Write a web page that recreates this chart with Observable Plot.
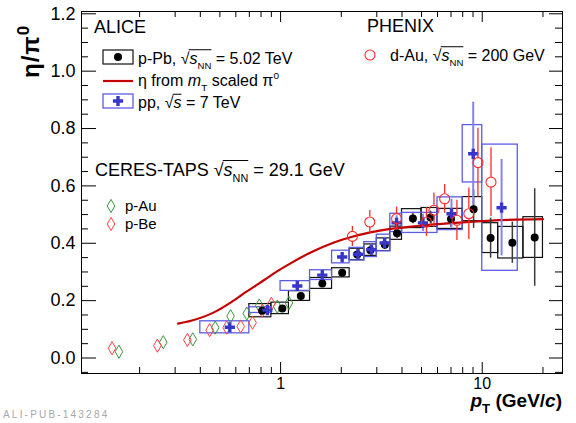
<!DOCTYPE html>
<html>
<head>
<meta charset="utf-8">
<script src="https://cdn.jsdelivr.net/npm/d3@7"></script>
<script src="https://cdn.jsdelivr.net/npm/@observablehq/plot@0.6"></script>
<style>
  body { margin: 0; background: #fff; }
  svg { font-family: "Liberation Sans", Arial, sans-serif; }
</style>
</head>
<body>
<div id="chart"></div>
<script>
// ALICE p-Pb, sqrt(sNN) = 5.02 TeV: eta/pi0 with statistical and systematic uncertainties
const pPbPt    = [0.81, 1.02, 1.26, 1.61, 2.02, 2.40, 2.79, 3.29, 3.78, 4.53, 5.54, 7.0, 9.06, 11.0, 14.1, 18.2];
const pPbVal   = [0.165, 0.173, 0.216, 0.260, 0.297, 0.361, 0.376, 0.395, 0.435, 0.486, 0.490, 0.485, 0.519, 0.418, 0.402, 0.420];
const pPbStat  = [0.008, 0.008, 0.008, 0.009, 0.010, 0.012, 0.013, 0.015, 0.018, 0.018, 0.022, 0.030, 0.067, 0.070, 0.072, 0.170];
const pPbSys   = [0.023, 0.020, 0.017, 0.019, 0.016, 0.020, 0.020, 0.022, 0.023, 0.033, 0.033, 0.035, 0.042, 0.052, 0.055, 0.071];
const pPbBinLo = [0.7, 0.9, 1.1, 1.4, 1.8, 2.2, 2.6, 3.0, 3.5, 4.0, 5.0, 6.0, 8.0, 10, 12, 16];
const pPbBinHi = [0.9, 1.1, 1.4, 1.8, 2.2, 2.6, 3.0, 3.5, 4.0, 5.0, 6.0, 8.0, 10, 12, 16, 20];

// ALICE pp, sqrt(s) = 7 TeV
const ppPt    = [0.56, 0.86, 1.21, 1.61, 2.02, 2.42, 2.82, 3.28, 3.76, 5.08, 7.04, 9.02, 12.47];
const ppVal   = [0.107, 0.167, 0.251, 0.289, 0.352, 0.362, 0.378, 0.401, 0.471, 0.471, 0.503, 0.712, 0.524];
const ppStat  = [0.010, 0.010, 0.010, 0.012, 0.014, 0.016, 0.018, 0.020, 0.025, 0.030, 0.050, 0.180, 0.168];
const ppSys   = [0.021, 0.010, 0.017, 0.017, 0.022, 0.022, 0.026, 0.029, 0.032, 0.035, 0.057, 0.100, 0.220];
const ppBinLo = [0.4, 0.7, 1.0, 1.4, 1.8, 2.2, 2.6, 3.0, 3.5, 4.0, 6.0, 8.0, 10];
const ppBinHi = [0.7, 0.9, 1.4, 1.8, 2.2, 2.6, 3.0, 3.5, 4.0, 6.0, 8.0, 10, 15];

// eta from mT-scaled pi0
const mtPt  = [0.31, 0.36, 0.47, 0.57, 0.68, 0.83, 0.96, 1.12, 1.41, 1.84, 2.22, 2.79, 3.5, 4.9, 7.0, 11, 20];
const mtVal = [0.12, 0.13, 0.16, 0.195, 0.232, 0.272, 0.302, 0.33, 0.368, 0.403, 0.421, 0.438, 0.45, 0.461, 0.47, 0.479, 0.484];

// PHENIX d-Au, sqrt(sNN) = 200 GeV
const phxPt  = [2.27, 2.77, 3.76, 5.29, 5.76, 6.51, 7.49, 8.58, 9.52, 11.05];
const phxVal = [0.424, 0.474, 0.486, 0.474, 0.515, 0.555, 0.480, 0.503, 0.681, 0.613];
const phxErr = [0.035, 0.040, 0.040, 0.050, 0.060, 0.050, 0.070, 0.090, 0.120, 0.120];

// CERES-TAPS, sqrt(sNN) = 29.1 GeV
const pAuPt  = [0.158, 0.262, 0.367, 0.474, 0.565, 0.68, 0.784, 0.963, 1.1];
const pAuVal = [0.022, 0.055, 0.065, 0.106, 0.146, 0.155, 0.183, 0.179, 0.192];
const pBePt  = [0.146, 0.245, 0.345, 0.445, 0.54, 0.634, 0.726, 0.81, 0.9];
const pBeVal = [0.034, 0.043, 0.063, 0.097, 0.106, 0.110, 0.123, 0.165, 0.189];

// axis ticks
const xMajor = [1, 10];
const xMinor = [0.2, 0.3, 0.4, 0.5, 0.6, 0.7, 0.8, 0.9, 2, 3, 4, 5, 6, 7, 8, 9, 20];
const yMajor = [0, 0.2, 0.4, 0.6, 0.8, 1.0, 1.2];
const yMinor = d3.range(-0.05, 1.2001, 0.05).map(v => +v.toFixed(2)).filter(v => !yMajor.some(m => Math.abs(m - v) < 1e-6));

const pPb = pPbPt.map((pt, i) => ({pt, v: pPbVal[i], stat: pPbStat[i], sys: pPbSys[i], lo: pPbBinLo[i], hi: pPbBinHi[i]}));
const pp  = ppPt.map((pt, i) => ({pt, v: ppVal[i], stat: ppStat[i], sys: ppSys[i], lo: ppBinLo[i], hi: ppBinHi[i]}));
const mt  = mtPt.map((pt, i) => ({pt, v: mtVal[i]}));
const phx = phxPt.map((pt, i) => ({pt, v: phxVal[i], err: phxErr[i]}));
const pAu = pAuPt.map((pt, i) => ({pt, v: pAuVal[i]}));
const pBe = pBePt.map((pt, i) => ({pt, v: pBeVal[i]}));

const W = 576, H = 423;
const mL = 81, mR = 14, mT = 11, mB = 50;
const fw = W - mL - mR, fh = H - mT - mB;

const BLUE = "#3636c8", BLUEBOX = "#5c5ce6", BLUEERR = "#8484ea";
const RED = "#ff2a2a", LINE = "#c40000", GREEN = "#3a943a", PBE = "#ff4040";
const R_CIRC = 5;

const svgNode = Plot.plot({
  width: W, height: H,
  marginLeft: mL, marginRight: mR, marginTop: mT, marginBottom: mB,
  x: {type: "log", domain: [0.103, 25], axis: null},
  y: {domain: [-0.054, 1.208], axis: null},
  style: {fontFamily: "'Liberation Sans', Arial, sans-serif", background: "white", color: "black"},
  marks: [
    // systematic boxes
    Plot.rect(pPb, {x1: "lo", x2: "hi", y1: d => d.v - d.sys, y2: d => d.v + d.sys, fill: "none", stroke: "#111", strokeWidth: 1.2}),
    Plot.rect(pp, {x1: "lo", x2: "hi", y1: d => d.v - d.sys, y2: d => d.v + d.sys, fill: "none", stroke: BLUEBOX, strokeWidth: 1.3}),
    // mT scaling curve
    Plot.line(mt, {x: "pt", y: "v", stroke: LINE, strokeWidth: 2.2, curve: "monotone-x"}),
    // CERES-TAPS
    Plot.dot(pAu, {x: "pt", y: "v", symbol: "diamond", r: 4, stroke: GREEN, fill: "none", strokeWidth: 1}),
    Plot.dot(pBe, {x: "pt", y: "v", symbol: "diamond", r: 4, stroke: PBE, fill: "none", strokeWidth: 1}),
    // statistical errors
    Plot.ruleX(pPb, {x: "pt", y1: d => d.v - d.stat, y2: d => d.v + d.stat, stroke: "#3a3a3a", strokeWidth: 1.5}),
    Plot.ruleX(pp, {x: "pt", y1: d => d.v - d.stat, y2: d => d.v + d.stat, stroke: BLUEERR, strokeWidth: 2}),
    Plot.dot(pPb, {x: "pt", y: "v", r: 4, fill: "#000"}),
    Plot.dot(pp, {x: "pt", y: "v", symbol: "cross", r: 4.3, fill: BLUE}),
    // PHENIX: error bars stop at the open marker
    Plot.ruleX(phx, {x: "pt", y1: d => d.v + d.err, y2: "v", insetBottom: R_CIRC, stroke: RED, strokeWidth: 1.3}),
    Plot.ruleX(phx, {x: "pt", y1: "v", y2: d => d.v - d.err, insetTop: R_CIRC, stroke: RED, strokeWidth: 1.3}),
    Plot.dot(phx, {x: "pt", y: "v", r: R_CIRC, stroke: RED, fill: "none", strokeWidth: 1.1}),
    // frame and inward ticks on all four sides
    Plot.frame({stroke: "#000", strokeWidth: 1}),
    Plot.ruleX(xMajor, {x: d => d, insetTop: fh - 11, stroke: "#000"}),
    Plot.ruleX(xMinor, {x: d => d, insetTop: fh - 6, stroke: "#000"}),
    Plot.ruleX(xMajor, {x: d => d, insetBottom: fh - 11, stroke: "#000"}),
    Plot.ruleX(xMinor, {x: d => d, insetBottom: fh - 6, stroke: "#000"}),
    Plot.ruleY(yMajor, {y: d => d, insetRight: fw - 15, stroke: "#000"}),
    Plot.ruleY(yMinor, {y: d => d, insetRight: fw - 7, stroke: "#000"}),
    Plot.ruleY(yMajor, {y: d => d, insetLeft: fw - 13, stroke: "#000"}),
    Plot.ruleY(yMinor, {y: d => d, insetLeft: fw - 7, stroke: "#000"}),
    // tick labels
    Plot.text(yMajor, {y: d => d, frameAnchor: "left", dx: -6, textAnchor: "end", text: d => d.toFixed(1), fontSize: 18, fill: "#000"}),
    Plot.text(xMajor, {x: d => d, frameAnchor: "bottom", dy: 4, lineAnchor: "top", text: d => String(d), fontSize: 16, fill: "#000"})
  ]
});

document.getElementById("chart").appendChild(svgNode);
const svg = d3.select(svgNode);

// text with sub/superscripts, italics and a radical overline
function rich(x, y, size, parts, opts = {}) {
  const t = svg.append("text").attr("x", x).attr("y", y).attr("font-size", size).attr("fill", "#000")
    .attr("text-anchor", opts.anchor || "start");
  if (opts.weight) t.attr("font-weight", opts.weight);
  if (opts.transform) t.attr("transform", opts.transform);
  if (opts.spacing) t.attr("letter-spacing", opts.spacing);
  let cur = 0;
  const bar = [];
  let rad = null;
  for (const p of parts) {
    const small = p.sub || p.sup;
    const off = p.sub ? size * 0.32 : p.sup ? -size * 0.42 : 0;
    const ts = t.append("tspan").attr("dy", off - cur).text(p.t);
    if (small) ts.attr("font-size", size * (p.scale || 0.62));
    if (p.i) ts.attr("font-style", "italic");
    if (p.dx) ts.attr("dx", p.dx);
    cur = off;
    if (p.bar) bar.push(ts.node());
    if (p.rad) rad = ts.node();
  }
  if (bar.length && rad) {
    const rb = rad.getBBox();
    const bx = bar.map(n => n.getBBox());
    const x1 = rb.x + rb.width - 1;
    const x2 = Math.max(...bx.map(b => b.x + b.width));
    const yy = y - size * 0.86;
    svg.append("line").attr("x1", x1).attr("x2", x2).attr("y1", yy).attr("y2", yy)
      .attr("stroke", "#000").attr("stroke-width", 1);
  }
  return t;
}

const sqrtNN = [{t: "√", rad: true}, {t: "s", i: true, bar: true}, {t: "NN", sub: true, bar: true, scale: 0.6}];

// ALICE block
rich(94, 33, 18, [{t: "ALICE"}]);
svg.append("rect").attr("x", 103).attr("y", 50).attr("width", 30).attr("height", 14)
  .attr("fill", "none").attr("stroke", "#111").attr("stroke-width", 1.2);
svg.append("circle").attr("cx", 118).attr("cy", 57).attr("r", 4).attr("fill", "#000");
rich(138, 63.5, 16, [{t: "p-Pb, "}, ...sqrtNN, {t: " = 5.02 TeV"}]);

svg.append("line").attr("x1", 103).attr("x2", 133).attr("y1", 81).attr("y2", 81)
  .attr("stroke", LINE).attr("stroke-width", 2.2);
rich(138, 85.5, 16, [{t: "η from "}, {t: "m", i: true}, {t: "T", sub: true}, {t: " scaled π"}, {t: "0", sup: true}]);

svg.append("rect").attr("x", 103).attr("y", 94).attr("width", 30).attr("height", 14)
  .attr("fill", "none").attr("stroke", BLUEBOX).attr("stroke-width", 1.3);
svg.append("path").attr("transform", "translate(118,101)")
  .attr("d", d3.symbol(d3.symbolCross, Math.PI * 4.3 * 4.3)()).attr("fill", BLUE);
rich(138, 108, 16, [{t: "pp, "}, {t: "√", rad: true}, {t: "s", i: true, bar: true}, {t: " = 7 TeV"}]);

// PHENIX block
rich(367, 32, 18, [{t: "PHENIX"}]);
svg.append("circle").attr("cx", 370).attr("cy", 55).attr("r", R_CIRC)
  .attr("fill", "none").attr("stroke", RED).attr("stroke-width", 1.1);
rich(390, 60.5, 16, [{t: "d-Au, "}, ...sqrtNN, {t: " = 200 GeV"}]);

// CERES-TAPS block
rich(95, 176, 18, [{t: "CERES-TAPS "}, ...sqrtNN, {t: " = 29.1 GeV"}]);
svg.append("path").attr("transform", "translate(111,206)")
  .attr("d", d3.symbol(d3.symbolDiamond, Math.PI * 16)()).attr("fill", "none").attr("stroke", GREEN);
rich(125, 210.5, 15, [{t: "p-Au"}]);
svg.append("path").attr("transform", "translate(111,224)")
  .attr("d", d3.symbol(d3.symbolDiamond, Math.PI * 16)()).attr("fill", "none").attr("stroke", PBE);
rich(125, 228.5, 15, [{t: "p-Be"}]);

// axis titles
rich(0, 0, 24, [{t: "η/π"}, {t: "0", sup: true, scale: 0.7}], {weight: "bold", transform: "translate(39,78) rotate(-90)", spacing: 1});
rich(562, 407, 19, [{t: "p", i: true}, {t: "T", sub: true, scale: 0.7}, {t: " (GeV/"}, {t: "c", i: true}, {t: ")"}], {weight: "bold", anchor: "end"});

// publication id
svg.append("text").attr("x", 3).attr("y", 418).attr("font-size", 10).attr("letter-spacing", 2.2)
  .attr("text-anchor", "start").attr("fill", "#a8a8a8").text("ALI-PUB-143284");
</script>
</body>
</html>
